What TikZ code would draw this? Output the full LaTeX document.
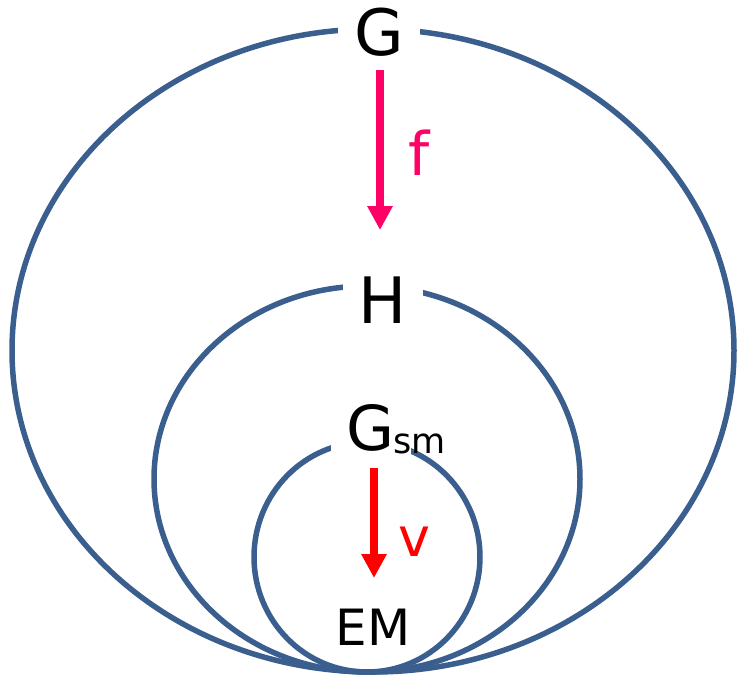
\documentclass[tikz,border=0pt]{standalone}
\usepackage{fontspec}
\setmainfont{DejaVu Sans}
\usetikzlibrary{arrows.meta}
\definecolor{setblue}{RGB}{58,95,143}
\definecolor{fmag}{RGB}{255,0,102}
\definecolor{vred}{RGB}{255,0,0}
\tikzset{
  setline/.style={draw=setblue, line width=5.5pt},
  gaplabel/.style={fill=white, inner xsep=16pt, inner ysep=6pt, anchor=base, text=black},
  maparrow/.style={line width=7.5pt, -{Triangle[width=24pt,length=24pt]}},
}
\begin{document}
\begin{tikzpicture}[x=1pt,y=-1pt]
\useasboundingbox (0,0) rectangle (737,678);
% sets
\draw[setline] (373,350.5) ellipse [x radius=361, y radius=321.5];
\draw[setline] (367,479) ellipse [x radius=213, y radius=193];
\draw[setline] (367,557) ellipse [x radius=113, y radius=115];
% labels
\node[gaplabel, font=\fontsize{64}{64}\selectfont] (G) at (379,55) {G};
\node[gaplabel, font=\fontsize{64}{64}\selectfont] (H) at (383,323) {H};
\node[gaplabel, font=\fontsize{62}{62}\selectfont] (Gs) at (371,450) {G};
\node[anchor=base west, inner sep=0pt, font=\fontsize{35}{35}\selectfont] (sm) at (393,453) {sm};
\node[anchor=base, inner sep=0pt, font=\fontsize{50}{50}\selectfont] (EM) at (373,645) {EM};
\node[anchor=base, inner sep=0pt, text=fmag, font=\fontsize{60}{60}\selectfont] (f) at (419,175) {f};
\node[anchor=base, inner sep=0pt, text=vred, font=\fontsize{54}{54}\selectfont] (v) at (414,556) {v};
% arrows
\coordinate (fa) at (380,70);
\coordinate (fb) at (380,230);
\coordinate (va) at (374,468);
\coordinate (vb) at (374,578);
\draw[maparrow, draw=fmag, fill=fmag] (fa) -- (fb);
\draw[maparrow, draw=vred, fill=vred] (va) -- (vb);
\end{tikzpicture}
\end{document}
